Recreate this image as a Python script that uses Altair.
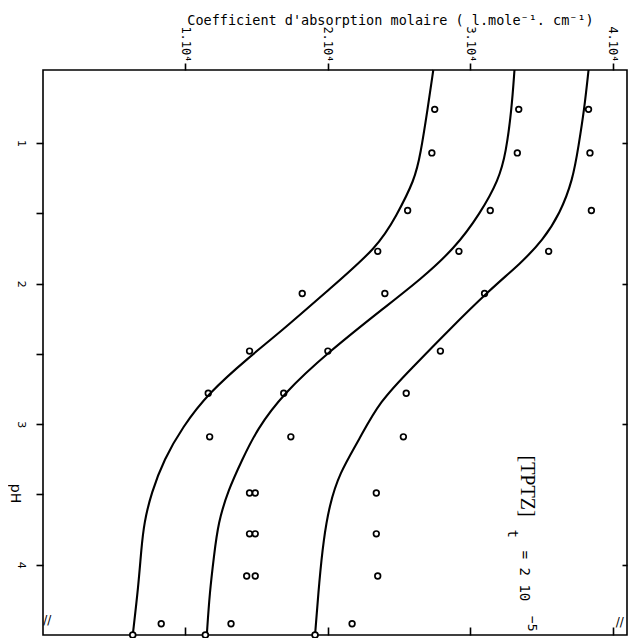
import altair as alt
import pandas as pd

# ---- measured points (pH, molar absorption coefficient in 1e4 units) ----
ph_points = [0.76, 1.07, 1.48, 1.77, 2.07, 2.48, 2.78, 3.09, 3.49, 3.78, 4.08, 4.42]
set1 = [2.75, 2.73, 2.56, 2.35, 1.82, 1.45, 1.16, 1.17, 1.45, 1.45, 1.43, 0.83]
set2 = [3.34, 3.33, 3.14, 2.92, 2.40, 2.00, 1.69, 1.74, 1.49, 1.49, 1.49, 1.32]
set3 = [3.83, 3.84, 3.85, 3.55, 3.10, 2.79, 2.55, 2.53, 2.34, 2.34, 2.35, 2.17]

# ---- calculated curves ----
curve1_ph = [0.48, 0.76, 1.08, 1.26, 1.52, 1.74, 2.04, 2.35, 2.52, 2.78, 3.02, 3.25, 3.49, 3.70, 3.89, 4.15, 4.50]
curve1_eps = [2.74, 2.70, 2.65, 2.61, 2.48, 2.35, 2.01, 1.66, 1.45, 1.16, 0.98, 0.85, 0.76, 0.71, 0.69, 0.67, 0.63]
curve2_ph = [0.48, 0.76, 1.07, 1.26, 1.50, 1.75, 1.97, 2.16, 2.49, 2.78, 3.04, 3.25, 3.47, 3.70, 3.94, 4.20, 4.50]
curve2_eps = [3.31, 3.29, 3.25, 3.20, 3.07, 2.89, 2.65, 2.41, 2.00, 1.69, 1.50, 1.40, 1.30, 1.23, 1.20, 1.17, 1.15]
curve3_ph = [0.48, 0.76, 1.02, 1.26, 1.50, 1.69, 1.86, 2.04, 2.35, 2.59, 2.84, 3.11, 3.35, 3.58, 3.82, 4.11, 4.50]
curve3_eps = [3.83, 3.80, 3.76, 3.72, 3.63, 3.51, 3.35, 3.14, 2.83, 2.60, 2.36, 2.22, 2.08, 2.01, 1.97, 1.94, 1.91]

# end circles of the curves (on the lower frame)
end_ph = [4.50, 4.50, 4.50]
end_eps = [0.63, 1.14, 1.91]

x_ticks = [1, 2, 3, 4]
ph_ticks = [1, 1.5, 2, 2.5, 3, 3.5, 4]
x_title = "Coefficient d'absorption molaire ( l.mole\u207b\u00b9. cm\u207b\u00b9)"

MONO = "DejaVu Sans Mono"
SANS = "DejaVu Sans"
SERIF = "Liberation Serif"

curves = pd.concat([
    pd.DataFrame({"pH": curve1_ph, "eps": curve1_eps, "curve": "c1"}),
    pd.DataFrame({"pH": curve2_ph, "eps": curve2_eps, "curve": "c2"}),
    pd.DataFrame({"pH": curve3_ph, "eps": curve3_eps, "curve": "c3"}),
], ignore_index=True)

points = pd.concat([
    pd.DataFrame({"pH": ph_points, "eps": set1, "set": "s1"}),
    pd.DataFrame({"pH": ph_points, "eps": set2, "set": "s2"}),
    pd.DataFrame({"pH": ph_points, "eps": set3, "set": "s3"}),
], ignore_index=True)

ends = pd.DataFrame({"pH": end_ph, "eps": end_eps})

ann_serif = pd.DataFrame({"pH": [3.44], "eps": [3.40], "t": ["[TPTZ]"]})
ann_mono = pd.DataFrame({"pH": [3.78, 4.08], "eps": [3.29, 3.38], "t": ["t", "= 2 10"]})
ann_sup = pd.DataFrame({"pH": [4.42], "eps": [3.43], "t": ["\u22125"]})
breaks = pd.DataFrame({"pH": [4.39, 4.41], "eps": [0.03, 4.05], "t": ["//", "//"]})

x_scale = alt.Scale(domain=[0, 4.10], nice=False, zero=False)
y_scale = alt.Scale(domain=[0.48, 4.50], reverse=True, nice=False, zero=False)

x_top = alt.Axis(
    orient="top", values=x_ticks,
    labelExpr="format(datum.value,'d') + '.10\u2074'",
    labelAngle=90, labelAlign="right", labelBaseline="middle",
    labelFont=MONO, labelFontSize=12, labelPadding=1, labelColor="black",
    tickSize=7, tickWidth=1.6, tickColor="black", domain=False, grid=False,
    title=x_title, titleFont=MONO, titleFontSize=13.5, titleFontWeight="normal",
    titleColor="black", titleX=347, titleY=-46, titleAlign="center",
    titleBaseline="alphabetic", titleAngle=0,
)
y_left = alt.Axis(
    orient="left", values=ph_ticks,
    labelExpr="datum.value % 1 == 0 ? format(datum.value,'d') : ''",
    labelAngle=90, labelAlign="center", labelBaseline="top",
    labelFont=SANS, labelFontSize=11, labelPadding=10, labelColor="black",
    tickSize=7, tickWidth=1.6, tickColor="black", domain=False, grid=False,
    title="pH", titleFont=SANS, titleFontSize=14, titleFontWeight="normal",
    titleColor="black", titleAngle=90, titleX=-29, titleY=423,
    titleAlign="center", titleBaseline="middle",
)
x_bottom = alt.Axis(orient="bottom", values=x_ticks, labels=False, tickSize=8,
                    offset=-8, tickWidth=1.6, tickColor="black", domain=False,
                    grid=False, title=None)
y_right = alt.Axis(orient="right", values=x_ticks, labels=False, tickSize=5,
                   offset=-5, tickWidth=1.6, tickColor="black", domain=False,
                   grid=False, title=None)

lines = alt.Chart(curves).mark_line(color="black", strokeWidth=2.1, interpolate="basis").encode(
    x=alt.X("eps:Q", scale=x_scale, axis=x_top),
    y=alt.Y("pH:Q", scale=y_scale, axis=y_left),
    detail="curve:N",
    order=alt.Order("pH:Q"),
)

pts = alt.Chart(points).mark_point(shape="circle", filled=False, color="black", size=32, strokeWidth=1.7, opacity=1).encode(
    x=alt.X("eps:Q", scale=x_scale, axis=x_bottom),
    y=alt.Y("pH:Q", scale=y_scale, axis=y_right),
)

end_pts = alt.Chart(ends).mark_point(shape="circle", filled=True, fill="white", stroke="black", size=34, strokeWidth=1.7, opacity=1).encode(
    x=alt.X("eps:Q", scale=x_scale, axis=None),
    y=alt.Y("pH:Q", scale=y_scale, axis=None),
)

def text_layer(df, font, size, **kw):
    return alt.Chart(df).mark_text(angle=90, align="center", baseline="middle", font=font,
                                   fontSize=size, color="black", **kw).encode(
        x=alt.X("eps:Q", scale=x_scale, axis=None),
        y=alt.Y("pH:Q", scale=y_scale, axis=None),
        text="t:N",
    )

t1 = text_layer(ann_serif, SERIF, 20)
t2 = text_layer(ann_mono, MONO, 14)
t3 = text_layer(ann_sup, MONO, 13)
t4 = alt.Chart(breaks).mark_text(align="center", baseline="middle", font=SANS, fontSize=12, color="black").encode(
    x=alt.X("eps:Q", scale=x_scale, axis=None),
    y=alt.Y("pH:Q", scale=y_scale, axis=None),
    text="t:N",
)

chart = alt.layer(lines, pts, end_pts, t1, t2, t3, t4).resolve_axis(
    x="independent", y="independent"
).properties(
    width=584, height=565,
    padding={"left": 35, "top": 62, "right": 2, "bottom": 4},
    autosize=alt.AutoSizeParams(type="none"),
    background="white",
).configure_view(stroke="black", strokeWidth=1.6)

chart.save("out.html", embed_options={"renderer": "svg", "actions": False})
